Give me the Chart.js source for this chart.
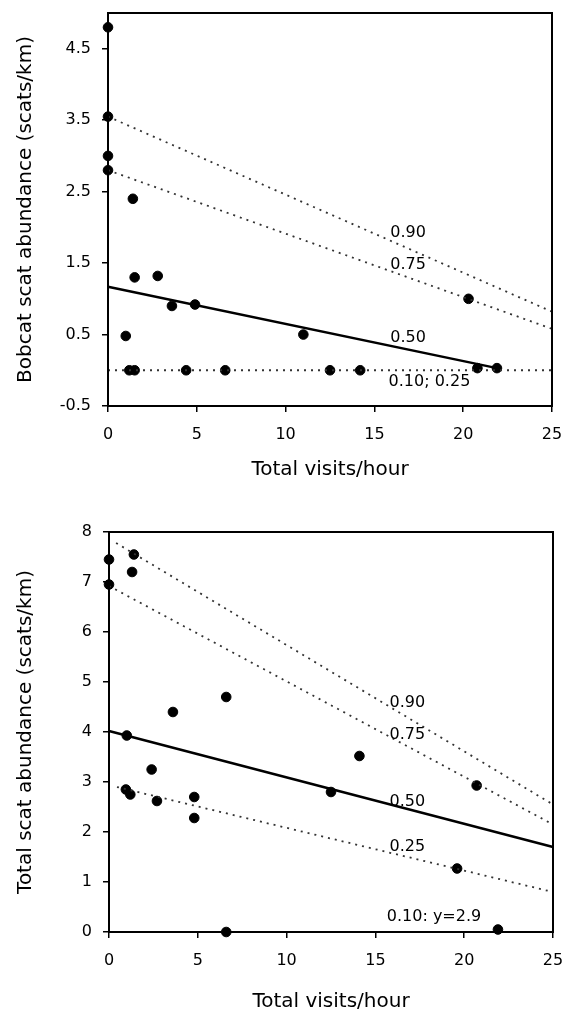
<!DOCTYPE html>
<html>
<head>
<meta charset="utf-8">
<script src="https://cdn.jsdelivr.net/npm/chart.js@4"></script>
<style>
  body { margin: 0; background: #fff; }
  .panel { position: absolute; left: 0; }
</style>
</head>
<body>
<div class="panel" style="top:0"><canvas id="bobcatChart" width="565" height="495"></canvas></div>
<div class="panel" style="top:495px"><canvas id="totalChart" width="565" height="519"></canvas></div>
<script>
// Bobcat scat abundance vs visits (top panel)
const bobcatX = [0, 0, 0, 0, 1.4, 1.5, 2.8, 3.6, 4.9, 1.0, 1.2, 1.5, 4.4, 6.6, 11.0, 12.5, 14.2, 20.3, 20.8, 21.9];
const bobcatY = [4.8, 3.55, 3.0, 2.8, 2.4, 1.3, 1.32, 0.9, 0.92, 0.48, 0, 0, 0, 0, 0.5, 0, 0, 1.0, 0.03, 0.03];
const bobcatTicks = [-0.5, 0.5, 1.5, 2.5, 3.5, 4.5];

// quantile regression lines, top panel: [x0, x1] and [y0, y1]
const bobcatQ90 = { x: [0, 25], y: [3.55, 0.82] };
const bobcatQ75 = { x: [0, 25], y: [2.8, 0.58] };
const bobcatQ50 = { x: [0, 21.9], y: [1.17, 0.03] };
const bobcatQ10 = { x: [0, 25], y: [0, 0] };

// Total scat abundance vs visits (bottom panel)
const totalX = [0, 0, 1.4, 1.3, 3.6, 6.6, 1.0, 0.95, 1.2, 2.4, 2.7, 4.8, 4.8, 6.6, 14.1, 12.5, 20.7, 19.6, 21.9];
const totalY = [7.45, 6.95, 7.55, 7.2, 4.4, 4.7, 3.93, 2.85, 2.75, 3.25, 2.62, 2.7, 2.28, 0, 3.52, 2.8, 2.93, 1.27, 0.05];

const totalQ90 = { x: [0.4, 25], y: [7.78, 2.55] };
const totalQ75 = { x: [0, 25], y: [6.92, 2.15] };
const totalQ50 = { x: [0, 25], y: [4.02, 1.7] };
const totalQ25 = { x: [0.45, 25], y: [2.9, 0.8] };
const totalQ10 = { x: [0, 25], y: [0, 0] };

// line labels, placed in data units
const bobcatLabels = [
    { text: '0.90', x: 16.9, y: 1.92 },
    { text: '0.75', x: 16.9, y: 1.47 },
    { text: '0.50', x: 16.9, y: 0.45 },
    { text: '0.10; 0.25', x: 18.1, y: -0.16 }
];
const totalLabels = [
    { text: '0.90', x: 16.8, y: 4.58 },
    { text: '0.75', x: 16.8, y: 3.94 },
    { text: '0.50', x: 16.8, y: 2.6 },
    { text: '0.25', x: 16.8, y: 1.7 },
    { text: '0.10: y=2.9', x: 18.3, y: 0.3 }
];

const FONT = 'DejaVu Sans';

function toPoints(xs, ys) {
    return xs.map((x, i) => ({ x: x, y: ys[i] }));
}

function lineSet(q, dotted, width) {
    return {
        type: 'line',
        data: toPoints(q.x, q.y),
        borderColor: dotted ? '#333' : '#000',
        borderWidth: width,
        borderDash: dotted ? [2, 5] : [],
        pointRadius: 0,
        fill: false,
        clip: false
    };
}

function pointSet(xs, ys) {
    return {
        type: 'scatter',
        data: toPoints(xs, ys),
        backgroundColor: '#000',
        borderColor: '#000',
        pointRadius: 4.8,
        clip: false
    };
}

// frame around plot area + text labels for the lines
function framePlugin(labels) {
    return {
        id: 'frame',
        afterDatasetsDraw(chart) {
            const { ctx, chartArea, scales } = chart;
            ctx.save();
            ctx.strokeStyle = '#000';
            ctx.lineWidth = 2;
            ctx.strokeRect(chartArea.left, chartArea.top, chartArea.right - chartArea.left, chartArea.bottom - chartArea.top);
            ctx.fillStyle = '#000';
            ctx.font = '16px "' + FONT + '"';
            ctx.textAlign = 'center';
            ctx.textBaseline = 'middle';
            labels.forEach(l => {
                ctx.fillText(l.text, scales.x.getPixelForValue(l.x), scales.y.getPixelForValue(l.y));
            });
            ctx.restore();
        }
    };
}

// drop the automatic label overflow padding so layout.padding sets the plot box
function noScalePadding(s) {
    s.paddingTop = 0;
    s.paddingBottom = 0;
    s.paddingLeft = 0;
    s.paddingRight = 0;
}

function makeChart(id, opts) {
    const ctx = document.getElementById(id).getContext('2d');
    return new Chart(ctx, {
        data: { datasets: opts.datasets },
        options: {
            responsive: false,
            animation: false,
            layout: { padding: opts.padding },
            plugins: { legend: { display: false }, tooltip: { enabled: false } },
            scales: {
                x: {
                    type: 'linear',
                    min: 0,
                    max: 25,
                    ticks: { stepSize: 5, color: '#000', padding: 13, font: { family: FONT, size: 16 } },
                    grid: { drawOnChartArea: false, color: '#000', tickLength: 6, lineWidth: 1.5 },
                    border: { color: '#000', width: 2 },
                    title: {
                        display: true,
                        text: 'Total visits/hour',
                        color: '#000',
                        font: { family: FONT, size: 20 },
                        padding: { top: 0, bottom: opts.xTitlePad }
                    },
                    afterFit: s => { s.height = opts.xHeight; noScalePadding(s); }
                },
                y: {
                    type: 'linear',
                    min: opts.yMin,
                    max: opts.yMax,
                    ticks: { stepSize: 1, color: '#000', padding: 11, font: { family: FONT, size: 16 } },
                    afterBuildTicks: opts.yTicks ? (s => { s.ticks = opts.yTicks.map(v => ({ value: v })); }) : undefined,
                    grid: { drawOnChartArea: false, color: '#000', tickLength: 6, lineWidth: 1.5 },
                    border: { color: '#000', width: 2 },
                    title: {
                        display: true,
                        text: opts.yTitle,
                        color: '#000',
                        font: { family: FONT, size: 20 },
                        padding: { top: 14, bottom: 0 }
                    },
                    afterFit: s => { s.width = opts.yWidth; noScalePadding(s); }
                }
            }
        },
        plugins: [framePlugin(opts.labels)]
    });
}

makeChart('bobcatChart', {
    datasets: [
        lineSet(bobcatQ90, true, 1.8),
        lineSet(bobcatQ75, true, 1.8),
        lineSet(bobcatQ50, false, 2.5),
        lineSet(bobcatQ10, true, 2),
        pointSet(bobcatX, bobcatY)
    ],
    padding: { top: 13, right: 13, left: 0, bottom: 0 },
    yMin: -0.5,
    yMax: 5.0,
    yTicks: bobcatTicks,
    yTitle: 'Bobcat scat abundance (scats/km)',
    yWidth: 108,
    xHeight: 89,
    xTitlePad: 13,
    labels: bobcatLabels
});

makeChart('totalChart', {
    datasets: [
        lineSet(totalQ90, true, 1.8),
        lineSet(totalQ75, true, 1.8),
        lineSet(totalQ50, false, 2.5),
        lineSet(totalQ25, true, 1.8),
        lineSet(totalQ10, false, 2),
        pointSet(totalX, totalY)
    ],
    padding: { top: 37, right: 12, left: 0, bottom: 0 },
    yMin: 0,
    yMax: 8,
    yTicks: null,
    yTitle: 'Total scat abundance (scats/km)',
    yWidth: 109,
    xHeight: 82,
    xTitlePad: 0,
    labels: totalLabels
});
</script>
</body>
</html>
